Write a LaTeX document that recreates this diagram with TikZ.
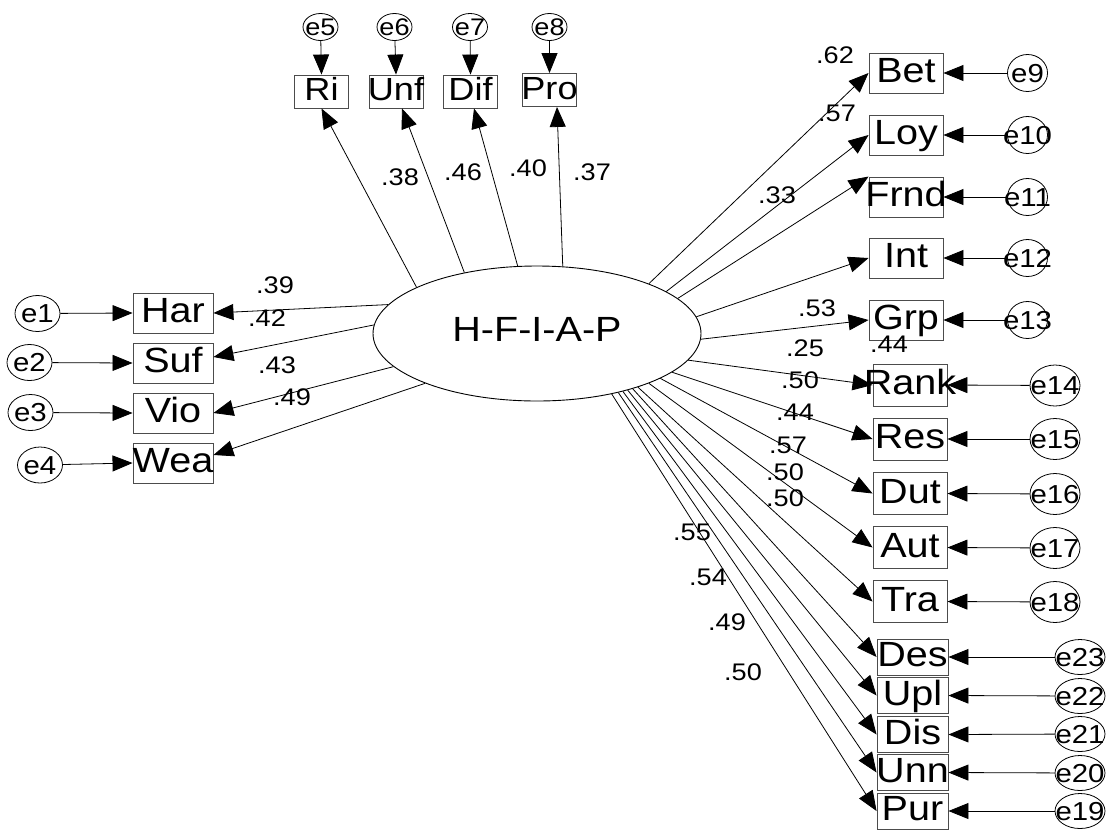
\documentclass[tikz,border=0pt]{standalone}
\usepackage{fontspec}
\setmainfont{Liberation Sans}
\newfontfamily\amosfont[FakeStretch=1.13]{Liberation Sans}
\usetikzlibrary{arrows.meta,shapes.geometric}
% keep a label from widening its box: the text is centred and may overflow
\newcommand\fixw[1]{\makebox[0pt]{#1}}

\tikzset{
  link/.style={line width=0.8pt, -{Triangle[length=20pt,width=16pt]}},
  latent/.style={ellipse, draw, line width=0.9pt, inner sep=0pt,
    minimum width=328pt, minimum height=135pt},
  bigtxt/.style={inner sep=0pt, font=\amosfont\fontsize{35}{35}\selectfont},
  obs/.style={rectangle, draw=black!70, line width=0.9pt, inner sep=0pt,
    text height=25pt, text depth=6pt, font=\amosfont\fontsize{35}{35}\selectfont},
  obsL/.style={obs, minimum width=80pt, minimum height=40pt},
  obsT/.style={obs, minimum width=54pt, minimum height=33pt,
    text height=23pt, text depth=5pt, font=\amosfont\fontsize{32}{32}\selectfont},
  obsA/.style={obs, minimum width=74pt, minimum height=40pt},
  obsB/.style={obs, minimum width=74pt, minimum height=42pt},
  obsC/.style={obs, minimum width=71pt, minimum height=36pt},
  err/.style={ellipse, draw, line width=0.8pt, inner sep=0pt,
    text height=18.6pt, text depth=0pt, font=\amosfont\fontsize{26}{26}\selectfont},
  errL/.style={err, minimum width=45pt, minimum height=36pt},
  errT/.style={err, minimum width=35pt, minimum height=27pt,
    text height=17pt, font=\amosfont\fontsize{24}{24}\selectfont},
  errA/.style={err, minimum width=40pt, minimum height=37pt},
  errB/.style={err, minimum width=50pt, minimum height=41pt},
  errC/.style={err, minimum width=50pt, minimum height=35pt},
  coef/.style={inner sep=0pt, font=\amosfont\fontsize{24}{24}\selectfont},
}

\begin{document}
\begin{tikzpicture}[x=1pt,y=-1pt]
\useasboundingbox (0,0) rectangle (1108,831);

% latent factor
\node[latent] (lat) at (537,333.5) {};
\node[bigtxt] (latname) at (537,329.5) {H-F-I-A-P};

% left indicators
\node[obsL] (Har) at (173,313) {\fixw{Har}};
\node[obsL] (Suf) at (173,363) {\fixw{Suf}};
\node[obsL] (Vio) at (173,413) {\fixw{Vio}};
\node[obsL] (Wea) at (173,463) {\fixw{Wea}};
\node[errL] (e1) at (37.5,313.5) {\fixw{e1}};
\node[errL] (e2) at (29.5,362.5) {\fixw{e2}};
\node[errL] (e3) at (30.5,412.5) {\fixw{e3}};
\node[errL] (e4) at (40,465) {\fixw{e4}};

% top indicators
\node[obsT] (Ri)  at (321.5,91.5) {\fixw{Ri}};
\node[obsT] (Unf) at (396,91.5) {\fixw{Unf}};
\node[obsT] (Dif) at (470.5,91.5) {\fixw{Dif}};
\node[obsT] (Pro) at (549.5,90) {\fixw{Pro}};
\node[errT] (e5) at (320.5,27) {\fixw{e5}};
\node[errT] (e6) at (394.5,27) {\fixw{e6}};
\node[errT] (e7) at (470,27) {\fixw{e7}};
\node[errT] (e8) at (549.5,27) {\fixw{e8}};

% right indicators, upper group
\node[obsA] (Bet)  at (906,73)  {\fixw{Bet}};
\node[obsA] (Loy)  at (906,135) {\fixw{Loy}};
\node[obsA] (Frnd) at (906,197) {\fixw{Frnd}};
\node[obsA] (Int)  at (906,258) {\fixw{Int}};
\node[obsA] (Grp)  at (906,320) {\fixw{Grp}};
\node[errA] (e9)  at (1027.5,73)  {\fixw{e9}};
\node[errA] (e10) at (1027.5,135) {\fixw{e10}};
\node[errA] (e11) at (1027.5,197) {\fixw{e11}};
\node[errA] (e12) at (1027.5,258) {\fixw{e12}};
\node[errA] (e13) at (1027.5,320) {\fixw{e13}};

% right indicators, middle group
\node[obsB] (Rank) at (910,385)   {\fixw{Rank}};
\node[obsB] (Res)  at (910,439)   {\fixw{Res}};
\node[obsB] (Dut)  at (910,493.5) {\fixw{Dut}};
\node[obsB] (Aut)  at (910,547.5) {\fixw{Aut}};
\node[obsB] (Tra)  at (910,601.5) {\fixw{Tra}};
\node[errB] (e14) at (1055,385.5) {\fixw{e14}};
\node[errB] (e15) at (1055,439)   {\fixw{e15}};
\node[errB] (e16) at (1055,494)   {\fixw{e16}};
\node[errB] (e17) at (1055,548)   {\fixw{e17}};
\node[errB] (e18) at (1055,602)   {\fixw{e18}};

% right indicators, lower group
\node[obsC] (Des) at (912.5,657)   {\fixw{Des}};
\node[obsC] (Upl) at (912.5,695.5) {\fixw{Upl}};
\node[obsC] (Dis) at (912.5,734.5) {\fixw{Dis}};
\node[obsC] (Unn) at (912.5,772.5) {\fixw{Unn}};
\node[obsC] (Pur) at (912.5,811)   {\fixw{Pur}};
\node[errC] (e23) at (1080,657) {\fixw{e23}};
\node[errC] (e22) at (1080,696) {\fixw{e22}};
\node[errC] (e21) at (1080,734) {\fixw{e21}};
\node[errC] (e20) at (1080,773) {\fixw{e20}};
\node[errC] (e19) at (1080,811) {\fixw{e19}};

% error terms
\foreach \e/\v in {e1/Har,e2/Suf,e3/Vio,e4/Wea}
  \draw[link] (\e) -- (\v.west);
\foreach \e/\v in {e5/Ri,e6/Unf,e7/Dif,e8/Pro}
  \draw[link] (\e) -- (\v.north);
\foreach \e/\v in {e9/Bet,e10/Loy,e11/Frnd,e12/Int,e13/Grp,
                   e14/Rank,e15/Res,e16/Dut,e17/Aut,e18/Tra,
                   e23/Des,e22/Upl,e21/Dis,e20/Unn,e19/Pur}
  \draw[link] (\e) -- (\v.east);

% loadings
\draw[link] (lat.169) -- (Har.east);
\draw[link] (lat.177) -- ([yshift=6pt]Suf.east);
\draw[link] (lat.193) -- (Vio.east);
\draw[link] (lat.204) -- ([yshift=8pt]Wea.east);
\draw[link] (lat.159) -- (Ri.south);
\draw[link] (lat.140) -- ([xshift=6pt]Unf.south);
\draw[link] (lat.106) -- ([xshift=3.5pt]Dif.south);
\draw[link] (lat.69)  -- ([xshift=7.5pt]Pro.south);
\draw[link] (lat.24)  -- (Bet.west);
\draw[link] (lat.18)  -- (Loy.west);
\draw[link] (lat.14)  -- (Frnd.north west);
\draw[link] (lat.6)   -- (Int.west);
\draw[link] (lat.358) -- (Grp.west);
\draw[link] (lat.350) -- (Rank.west);
\draw[link] (lat.344) -- (Res.west);
\draw[link] (lat.340) -- (Dut.west);
\draw[link] (lat.336) -- (Aut.west);
\draw[link] (lat.332) -- (Tra.west);
\draw[link] (lat.330) -- (Des.west);
\draw[link] (lat.328) -- (Upl.west);
\draw[link] (lat.326) -- (Dis.west);
\draw[link] (lat.324) -- (Unn.west);
\draw[link] (lat.321) -- (Pur.west);

% standardized coefficients
\node[coef] (cHar) at (275,285) {.39};
\node[coef] (cSuf) at (267,318) {.42};
\node[coef] (cVio) at (277,365) {.43};
\node[coef] (cWea) at (292,397) {.49};
\node[coef] (cRi)  at (400,177) {.38};
\node[coef] (cUnf) at (463,172) {.46};
\node[coef] (cDif) at (528,168) {.40};
\node[coef] (cPro) at (592,172) {.37};
\node[coef] (cBet) at (835,55)  {.62};
\node[coef] (cLoy) at (837,113) {.57};
\node[coef] (cFrn) at (777,195) {.33};
\node[coef] (cGrp) at (817,308) {.53};
\node[coef] (cInt) at (805,348) {.25};
\node[coef] (cRnk) at (889,344) {.44};
\node[coef] (cRes) at (800,380) {.50};
\node[coef] (cDut) at (795,412) {.44};
\node[coef] (cAut) at (788,445) {.57};
\node[coef] (cTra) at (785,472) {.50};
\node[coef] (cDes) at (785,498) {.50};
\node[coef] (cUpl) at (692,532) {.55};
\node[coef] (cDis) at (708,577) {.54};
\node[coef] (cUnn) at (727,622) {.49};
\node[coef] (cPur) at (743,672) {.50};
\end{tikzpicture}
\end{document}
